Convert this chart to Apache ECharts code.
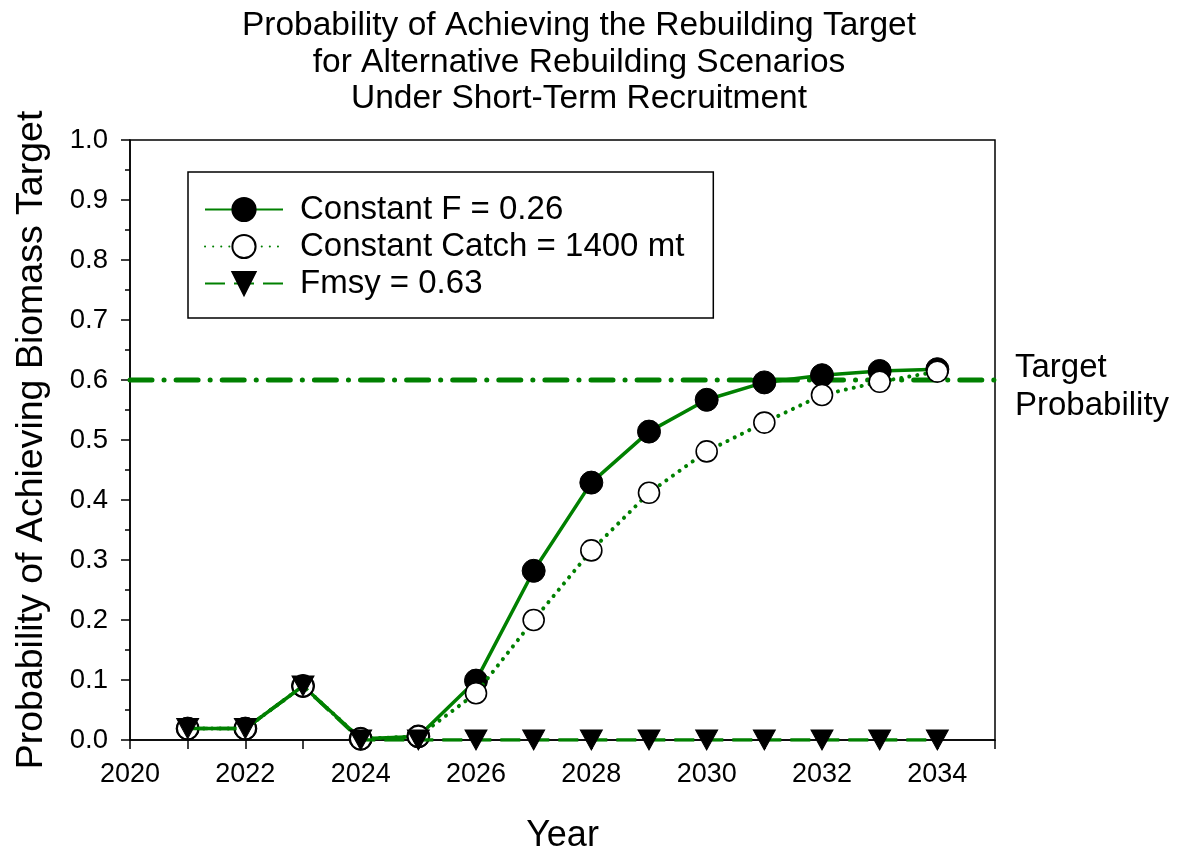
<!DOCTYPE html>
<html>
<head>
<meta charset="utf-8">
<script src="https://cdn.jsdelivr.net/npm/echarts@6/dist/echarts.min.js"></script>
<style>
html,body{margin:0;padding:0;background:#fff;}
#chart{width:1177px;height:859px;}
</style>
</head>
<body>
<div id="chart"></div>
<script>
const years = [2021, 2022, 2023, 2024, 2025, 2026, 2027, 2028, 2029, 2030, 2031, 2032, 2033, 2034];
const constantF = [0.019, 0.019, 0.09, 0.002, 0.006, 0.099, 0.282, 0.429, 0.514, 0.567, 0.596, 0.608, 0.615, 0.618];
const constantCatch = [0.019, 0.019, 0.09, 0.002, 0.006, 0.078, 0.200, 0.316, 0.412, 0.481, 0.529, 0.575, 0.597, 0.614];
const fmsy = [0.019, 0.019, 0.09, 0.0, 0.0, 0.0, 0.0, 0.0, 0.0, 0.0, 0.0, 0.0, 0.0, 0.0];
const targetProbability = 0.6;
const xRange = [2020, 2035];
const seriesNames = ['Constant F = 0.26', 'Constant Catch = 1400 mt', 'Fmsy = 0.63'];

const FONT = 'Liberation Sans, Arial, sans-serif';
const GREEN = '#008000';
const pair = (arr) => years.map((y, i) => [y, arr[i]]);

const chart = echarts.init(document.getElementById('chart'), null, {renderer: 'canvas'});
chart.setOption({
  backgroundColor: '#fff',
  animation: false,
  title: {
    text: 'Probability of Achieving the Rebuilding Target\nfor Alternative Rebuilding Scenarios\nUnder Short-Term Recruitment',
    left: 574, top: 3, textAlign: 'center',
    textStyle: {fontFamily: FONT, fontSize: 33.5, fontWeight: 'normal', color: '#000', lineHeight: 36.5}
  },
  grid: {left: 130, top: 140, width: 865, height: 602, show: true, borderColor: '#000', borderWidth: 1.5, backgroundColor: 'transparent'},
  legend: {
    data: seriesNames,
    orient: 'vertical', left: 188, top: 172,
    borderColor: '#000', borderWidth: 1.5,
    padding: [21, 29, 18, 16],
    itemWidth: 78, itemHeight: 29, itemGap: 4,
    textStyle: {fontFamily: FONT, fontSize: 33, color: '#000', lineHeight: 33, padding: [0, 0, 0, 12]}
  },
  xAxis: {
    type: 'value', min: xRange[0], max: xRange[1], interval: 1,
    name: 'Year', nameLocation: 'middle', nameGap: 78,
    nameTextStyle: {fontFamily: FONT, fontSize: 36, color: '#000'},
    axisLine: {lineStyle: {color: '#000', width: 1.5}},
    axisTick: {length: 9, lineStyle: {color: '#000', width: 1.5}},
    splitLine: {show: false},
    axisLabel: {
      fontFamily: FONT, fontSize: 27, color: '#000', margin: 21,
      formatter: (v) => (v % 2 === 0 ? String(v) : '')
    }
  },
  yAxis: {
    type: 'value', min: 0, max: 1, interval: 0.1,
    name: 'Probability of Achieving Biomass Target', nameLocation: 'middle', nameGap: 79,
    nameTextStyle: {fontFamily: FONT, fontSize: 37.5, color: '#000'},
    axisLine: {lineStyle: {color: '#000', width: 1.5}},
    axisTick: {length: 9, lineStyle: {color: '#000', width: 1.5}},
    minorTick: {show: true, splitNumber: 2, length: 5, lineStyle: {color: '#000', width: 1.5}},
    splitLine: {show: false},
    axisLabel: {
      fontFamily: FONT, fontSize: 27.5, color: '#000', margin: 22,
      formatter: (v) => v.toFixed(1)
    }
  },
  series: [
    {
      name: 'Target', type: 'line', z: 1,
      data: [[xRange[0], targetProbability], [xRange[1], targetProbability]],
      showSymbol: false, symbol: 'none', silent: true,
      lineStyle: {color: GREEN, width: 5, type: [22, 12, 0.1, 12], cap: 'round'},
      endLabel: {
        show: true, formatter: 'Target\nProbability', distance: 20, offset: [0, 7],
        fontFamily: FONT, fontSize: 33, color: '#000', lineHeight: 38, align: 'left'
      }
    },
    {
      name: seriesNames[0], type: 'line', z: 3,
      data: pair(constantF),
      symbol: 'circle', symbolSize: 23,
      itemStyle: {color: '#000', borderColor: '#000', borderWidth: 1},
      lineStyle: {color: GREEN, width: 3.5}
    },
    {
      name: seriesNames[1], type: 'line', z: 4,
      data: pair(constantCatch),
      symbol: 'circle', symbolSize: 21,
      itemStyle: {color: '#fff', borderColor: '#000', borderWidth: 1.6},
      lineStyle: {color: GREEN, width: 4, type: [0.1, 8], cap: 'round'}
    },
    {
      name: seriesNames[2], type: 'line', z: 5,
      data: pair(fmsy),
      symbol: 'path://M0,0 L10,0 L5,9 Z', symbolSize: [22, 20],
      itemStyle: {color: '#000', borderColor: '#000', borderWidth: 1},
      lineStyle: {color: GREEN, width: 3.5, type: [20, 9]}
    }
  ]
});
</script>
</body>
</html>
